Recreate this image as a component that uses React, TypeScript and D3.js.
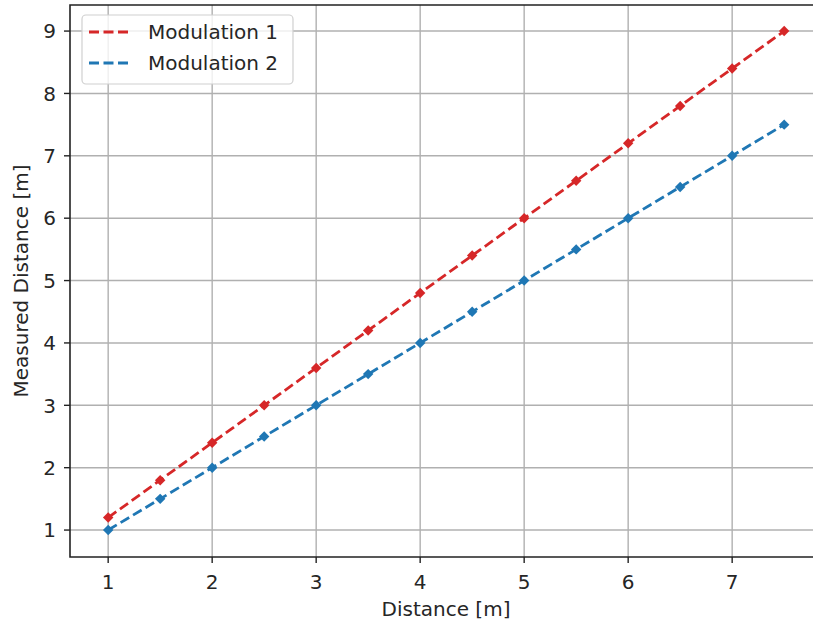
import React, { useRef, useEffect } from 'react';
import * as d3 from 'd3';

// distances in metres
const distance = [1, 1.5, 2, 2.5, 3, 3.5, 4, 4.5, 5, 5.5, 6, 6.5, 7, 7.5];
const modulation1 = [1.2, 1.8, 2.4, 3.0, 3.6, 4.2, 4.8, 5.4, 6.0, 6.6, 7.2, 7.8, 8.4, 9.0];
const modulation2 = [1.0, 1.5, 2.0, 2.5, 3.0, 3.5, 4.0, 4.5, 5.0, 5.5, 6.0, 6.5, 7.0, 7.5];
const seriesNames = ['Modulation 1', 'Modulation 2'];
const xTicks = [1, 2, 3, 4, 5, 6, 7];
const yTicks = [1, 2, 3, 4, 5, 6, 7, 8, 9];

function App() {
  const ref = useRef<SVGSVGElement>(null);

  useEffect(() => {
    const svg = d3.select(ref.current);
    svg.selectAll('*').remove();

    const W = 813, H = 623;
    const left = 70, right = 832, top = 5, bottom = 557;
    const font = 'DejaVu Sans, sans-serif';
    const fs = 20;
    const txt = '#262626';

    const x = d3.scaleLinear().domain([0.633, 7.96]).range([left, right]);
    const y = d3.scaleLinear().domain([0.568, 9.418]).range([bottom, top]);

    svg.attr('width', W).attr('height', H);
    svg.append('rect').attr('width', W).attr('height', H).attr('fill', '#fff');

    // grid
    const grid = svg.append('g').attr('stroke', '#b0b0b0').attr('stroke-width', 1.4);
    xTicks.forEach(t => {
      grid.append('line').attr('x1', x(t)).attr('x2', x(t)).attr('y1', top).attr('y2', bottom);
    });
    yTicks.forEach(t => {
      grid.append('line').attr('x1', left).attr('x2', right).attr('y1', y(t)).attr('y2', y(t));
    });

    // series
    const colors = ['#d62728', '#1f77b4'];
    const dash = '10,4.5';
    [modulation1, modulation2].forEach((vals, i) => {
      const pts = distance.map((d, j) => [d, vals[j]] as [number, number]);
      const g = svg.append('g');
      g.selectAll('path.m')
        .data(pts)
        .enter()
        .append('path')
        .attr('class', 'm')
        .attr('d', d3.symbol().type(d3.symbolDiamond2).size(70)())
        .attr('transform', d => `translate(${x(d[0])},${y(d[1])})`)
        .attr('fill', colors[i]);
      g.append('path')
        .attr('d', d3.line<[number, number]>().x(d => x(d[0])).y(d => y(d[1]))(pts))
        .attr('fill', 'none')
        .attr('stroke', colors[i])
        .attr('stroke-width', 2.8)
        .attr('stroke-dasharray', dash);
    });

    // spines
    svg.append('path')
      .attr('d', `M${right},${top}H${left}V${bottom}H${right}`)
      .attr('fill', 'none')
      .attr('stroke', '#222')
      .attr('stroke-width', 1.6);

    // ticks
    const tk = svg.append('g').attr('font-family', font).attr('font-size', fs).attr('fill', txt);
    xTicks.forEach(t => {
      tk.append('line').attr('x1', x(t)).attr('x2', x(t)).attr('y1', bottom).attr('y2', bottom + 6)
        .attr('stroke', '#222').attr('stroke-width', 1.4);
      tk.append('text').attr('x', x(t)).attr('y', 582).attr('dy', '0.36em').attr('text-anchor', 'middle').text(t);
    });
    yTicks.forEach(t => {
      tk.append('line').attr('x1', left - 6).attr('x2', left).attr('y1', y(t)).attr('y2', y(t))
        .attr('stroke', '#222').attr('stroke-width', 1.4);
      tk.append('text').attr('x', 56).attr('y', y(t)).attr('dy', '0.36em').attr('text-anchor', 'end').text(t);
    });

    // axis labels
    svg.append('text').attr('x', 446).attr('y', 609).attr('dy', '0.36em').attr('text-anchor', 'middle')
      .attr('font-family', font).attr('font-size', fs).attr('fill', txt).text('Distance [m]');
    svg.append('text').attr('transform', `translate(21,${(top + bottom) / 2}) rotate(-90)`)
      .attr('dy', '0.36em').attr('text-anchor', 'middle').attr('font-family', font).attr('font-size', fs).attr('fill', txt)
      .text('Measured Distance [m]');

    // legend
    const lg = svg.append('g');
    lg.append('rect').attr('x', 82).attr('y', 15).attr('width', 211).attr('height', 69).attr('rx', 4)
      .attr('fill', 'rgba(255,255,255,0.8)').attr('stroke', '#d0d0d0').attr('stroke-width', 1.2);
    seriesNames.forEach((name, i) => {
      const ly = 32 + i * 31;
      lg.append('line').attr('x1', 89).attr('x2', 132).attr('y1', ly).attr('y2', ly)
        .attr('stroke', colors[i]).attr('stroke-width', 2.8).attr('stroke-dasharray', dash);
      lg.append('text').attr('x', 148).attr('y', ly).attr('dy', '0.36em')
        .attr('font-family', font).attr('font-size', fs).attr('fill', txt).text(name);
    });
  }, []);

  return <svg ref={ref} style={{ position: 'absolute', left: 0, top: 0 }}></svg>;
}

export default App;
